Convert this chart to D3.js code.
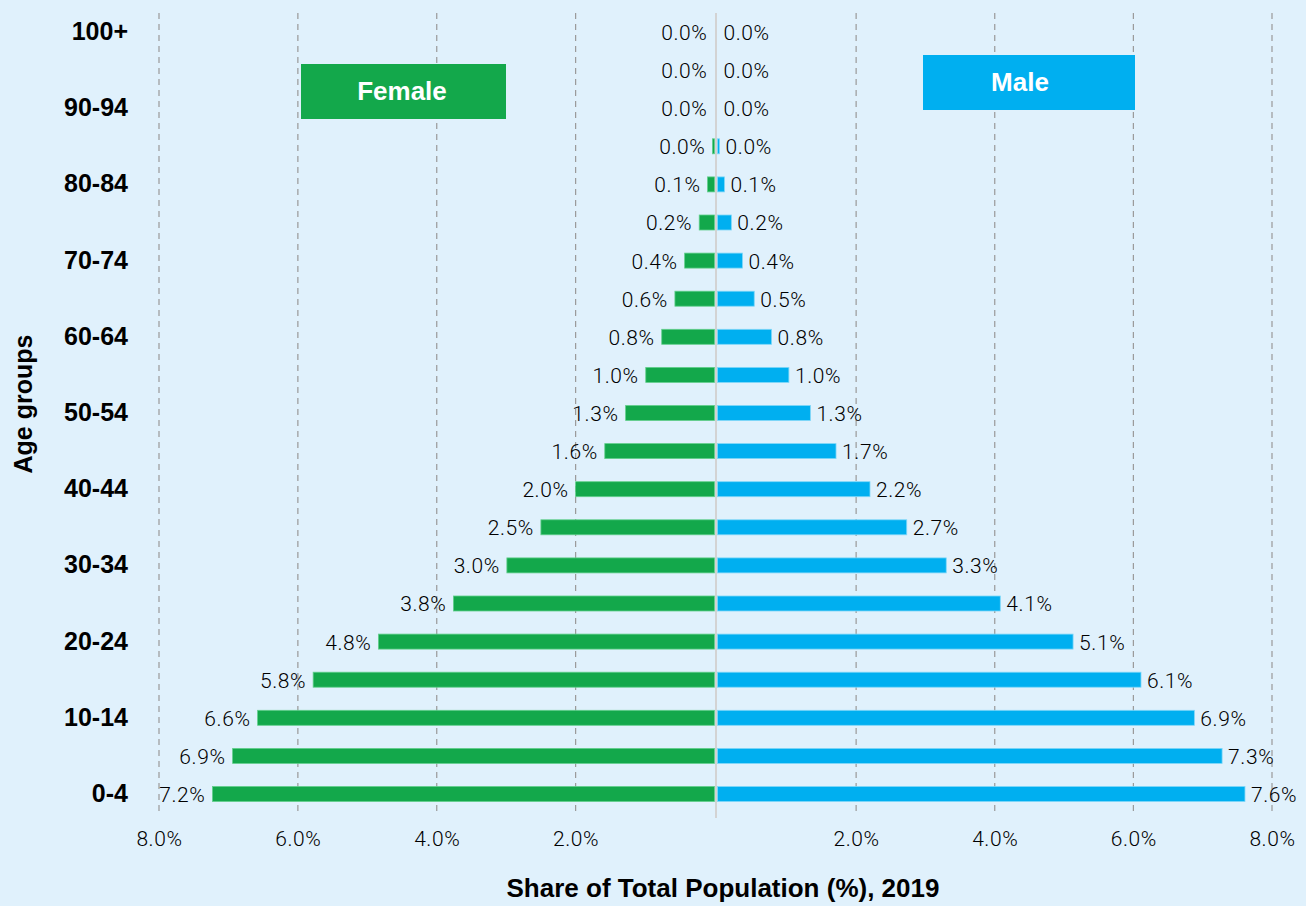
<!DOCTYPE html>
<html>
<head>
<meta charset="utf-8">
<script src="https://cdn.jsdelivr.net/npm/d3@7"></script>
<style>
  body { margin: 0; background: #e0f1fc; }
  svg { display: block; }
</style>
</head>
<body>
<div id="chart"></div>
<script>
// age groups, youngest first
const ageGroups = ["0-4", "5-9", "10-14", "15-19", "20-24", "25-29", "30-34", "35-39",
  "40-44", "45-49", "50-54", "55-59", "60-64", "65-69", "70-74", "75-79",
  "80-84", "85-89", "90-94", "95-99", "100+"];

// share of total population (%)
const female = [7.23, 6.94, 6.58, 5.78, 4.84, 3.76, 2.99, 2.50, 2.00, 1.58, 1.28, 0.99,
  0.76, 0.57, 0.43, 0.22, 0.10, 0.03, 0.0, 0.0, 0.0];
const male = [7.61, 7.28, 6.88, 6.11, 5.13, 4.08, 3.30, 2.73, 2.20, 1.71, 1.34, 1.03,
  0.78, 0.53, 0.36, 0.20, 0.10, 0.03, 0.0, 0.0, 0.0];

const gridTicks = [2, 4, 6, 8];

const width = 1306, height = 906;
const center = 716;
const boldFont = "'Liberation Sans', Arial, sans-serif";
const lightFont = "Roboto, sans-serif";

const svg = d3.select("#chart").append("svg")
  .attr("width", width)
  .attr("height", height);

svg.append("rect").attr("width", width).attr("height", height).attr("fill", "#e0f1fc");

// scales
const xF = d3.scaleLinear().domain([0, 8]).range([center - 1.5, 159]);
const xM = d3.scaleLinear().domain([0, 8]).range([center + 1.5, 1272]);
const y = d3.scalePoint().domain(ageGroups).range([794, 32]);
const barH = 15;

const rows = ageGroups.map((a, i) => ({ age: a, f: female[i], m: male[i] }));

// dashed grid
const grid = svg.append("g");
gridTicks.forEach(t => {
  [xF(t), xM(t)].forEach(x => {
    grid.append("line")
      .attr("x1", x).attr("x2", x)
      .attr("y1", 13).attr("y2", 816)
      .attr("stroke", "#999")
      .attr("stroke-width", 1.2)
      .attr("stroke-dasharray", "6,5");
  });
});

// centre line
svg.append("line")
  .attr("x1", center).attr("x2", center)
  .attr("y1", 13).attr("y2", 818)
  .attr("stroke", "#d3d3d3")
  .attr("stroke-width", 2);

// bars
svg.append("g").selectAll("rect")
  .data(rows).enter().append("rect")
  .attr("x", d => xF(d.f))
  .attr("y", d => y(d.age) - barH / 2)
  .attr("width", d => xF(0) - xF(d.f))
  .attr("height", barH)
  .attr("fill", "#13a84b")
  .attr("stroke", d => d.f > 0 ? "#62cf8c" : "none")
  .attr("stroke-width", 0.8);

svg.append("g").selectAll("rect")
  .data(rows).enter().append("rect")
  .attr("x", xM(0))
  .attr("y", d => y(d.age) - barH / 2)
  .attr("width", d => xM(d.m) - xM(0))
  .attr("height", barH)
  .attr("fill", "#00aff0")
  .attr("stroke", d => d.m > 0 ? "#7fd7f8" : "none")
  .attr("stroke-width", 0.8);

// value labels
const fmt = v => v.toFixed(1) + "%";
function valueLabel(sel) {
  sel.attr("y", d => y(d.age))
    .attr("dy", "0.38em")
    .attr("font-family", lightFont)
    .attr("font-weight", 300)
    .attr("font-size", 21)
    .attr("letter-spacing", 0.6)
    .attr("fill", "#000");
}
svg.append("g").selectAll("text")
  .data(rows).enter().append("text")
  .attr("x", d => xF(d.f) - 7)
  .attr("text-anchor", "end")
  .call(valueLabel)
  .text(d => fmt(d.f));

svg.append("g").selectAll("text")
  .data(rows).enter().append("text")
  .attr("x", d => xM(d.m) + 6)
  .attr("text-anchor", "start")
  .call(valueLabel)
  .text(d => fmt(d.m));

// y axis (every other group)
const yAxis = svg.append("g")
  .attr("transform", "translate(128,0)")
  .call(d3.axisLeft(y).tickValues(ageGroups.filter((a, i) => i % 2 === 0)).tickSize(0).tickPadding(0));
yAxis.select(".domain").remove();
yAxis.selectAll("text")
  .attr("dy", "0.3em")
  .attr("font-size", 25)
  .attr("font-weight", 700)
  .attr("fill", "#000")
  .attr("font-family", boldFont);

// x axes (both halves)
const axisF = svg.append("g").attr("transform", "translate(0,846)")
  .call(d3.axisBottom(xF).tickValues(gridTicks).tickSize(0).tickFormat(d => d.toFixed(1) + "%"));
const axisM = svg.append("g").attr("transform", "translate(0,846)")
  .call(d3.axisBottom(xM).tickValues(gridTicks).tickSize(0).tickFormat(d => d.toFixed(1) + "%"));
[axisF, axisM].forEach(a => {
  a.select(".domain").remove();
  a.selectAll("text")
    .attr("y", 0)
    .attr("dy", 0)
    .attr("font-size", 21)
    .attr("font-weight", 300)
    .attr("letter-spacing", 0.6)
    .attr("fill", "#000")
    .attr("font-family", lightFont);
});

// axis titles
svg.append("text")
  .attr("x", 723).attr("y", 897)
  .attr("text-anchor", "middle")
  .attr("font-family", boldFont)
  .attr("font-size", 26)
  .attr("font-weight", 700)
  .attr("fill", "#000")
  .text("Share of Total Population (%), 2019");

svg.append("text")
  .attr("transform", "translate(32,404) rotate(-90)")
  .attr("text-anchor", "middle")
  .attr("font-family", boldFont)
  .attr("font-size", 25)
  .attr("font-weight", 700)
  .attr("fill", "#000")
  .text("Age groups");

// legend boxes
const legend = [
  { label: "Female", color: "#13a84b", x: 301, y: 64, w: 205, h: 55, tx: 402 },
  { label: "Male", color: "#00aff0", x: 923, y: 55, w: 212, h: 55, tx: 1020 }
];
const lg = svg.append("g").selectAll("g").data(legend).enter().append("g");
lg.append("rect")
  .attr("x", d => d.x).attr("y", d => d.y)
  .attr("width", d => d.w).attr("height", d => d.h)
  .attr("fill", d => d.color);
lg.append("text")
  .attr("x", d => d.tx)
  .attr("y", d => d.y + d.h / 2)
  .attr("dy", "0.34em")
  .attr("text-anchor", "middle")
  .attr("font-family", boldFont)
  .attr("font-size", 26)
  .attr("font-weight", 700)
  .attr("fill", "#fff")
  .text(d => d.label);
</script>
</body>
</html>
